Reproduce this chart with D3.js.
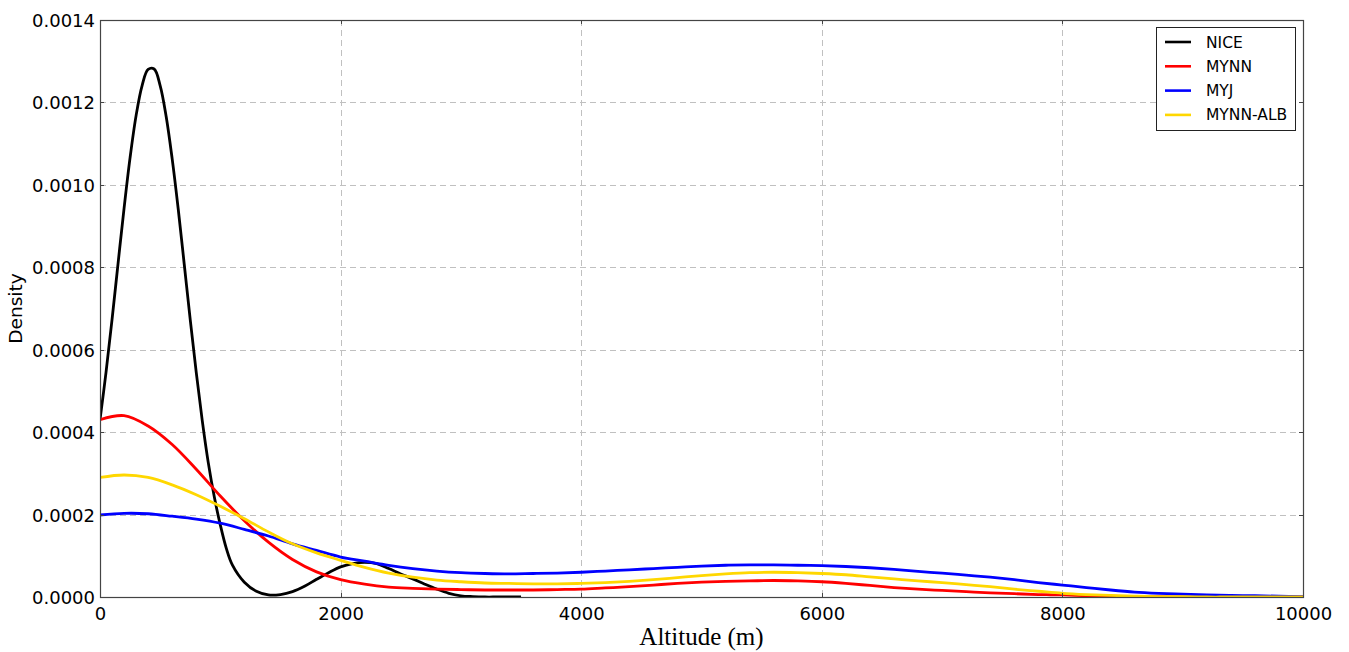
<!DOCTYPE html>
<html>
<head>
<meta charset="utf-8">
<script src="https://cdn.jsdelivr.net/npm/d3@7"></script>
<style>
  html, body { margin: 0; padding: 0; background: #fff; }
  svg { display: block; }
</style>
</head>
<body>
<svg id="chart" width="1349" height="652"></svg>
<script>
// ---- Data ----
const seriesNames = ["NICE", "MYNN", "MYJ", "MYNN-ALB"];
const seriesColors = ["#000000", "#ff0000", "#0000ff", "#ffd700"];

const niceX = [0, 50, 100, 150, 200, 250, 300, 350, 400, 450, 500, 550, 600, 650, 700, 750, 800, 850, 900, 950, 1000, 1050, 1100, 1200, 1300, 1400, 1500, 1600, 1700, 1800, 1900, 2000, 2100, 2200, 2300, 2400, 2500, 2600, 2700, 2800, 2900, 3000, 3100, 3200, 3300, 3400, 3500];
const niceY = [0.000430, 0.000545, 0.000673, 0.000809, 0.000943, 0.001066, 0.001168, 0.001241, 0.001280, 0.001281, 0.001241, 0.001166, 0.001063, 0.000942, 0.000808, 0.000673, 0.000545, 0.000428, 0.000326, 0.000243, 0.000175, 0.000118, 0.000078, 0.000036, 0.000014, 0.000005, 0.000006, 0.000013, 0.000026, 0.000043, 0.000059, 0.000073, 0.000081, 0.000084, 0.000081, 0.000069, 0.000056, 0.000044, 0.000031, 0.000019, 0.000009, 0.000003, 0.000001, 0.0, 0.0, 0.0, 0.0];

const gridX = [0, 200, 400, 600, 800, 1000, 1200, 1400, 1600, 1800, 2000, 2200, 2400, 2600, 2800, 3000, 3200, 3400, 3600, 3800, 4000, 4200, 4400, 4600, 4800, 5000, 5200, 5400, 5600, 5800, 6000, 6200, 6400, 6600, 6800, 7000, 7200, 7400, 7600, 7800, 8000, 8200, 8400, 8600, 8800, 9000, 9200, 9400, 9600, 9800, 10000];

const mynnY = [0.000430, 0.000440, 0.000415, 0.000370, 0.000310, 0.000245, 0.000185, 0.000133, 0.000091, 0.000061, 0.000042, 0.000031, 0.000024, 0.000021, 0.000019, 0.000018, 0.000017, 0.000017, 0.000017, 0.000018, 0.000019, 0.000022, 0.000025, 0.000029, 0.000033, 0.000036, 0.000038, 0.000039, 0.000040, 0.000039, 0.000037, 0.000033, 0.000028, 0.000023, 0.000019, 0.000016, 0.000013, 0.000010, 0.000008, 0.000006, 0.000005, 0.000003, 0.000002, 0.000001, 0.000001, 0.0, 0.0, 0.0, 0.0, 0.0, 0.0];

const myjY = [0.000199, 0.000203, 0.000202, 0.000196, 0.000189, 0.000179, 0.000164, 0.000148, 0.000129, 0.000113, 0.000097, 0.000087, 0.000077, 0.000069, 0.000063, 0.000059, 0.000057, 0.000056, 0.000057, 0.000058, 0.000060, 0.000063, 0.000066, 0.000069, 0.000072, 0.000075, 0.000077, 0.000078, 0.000078, 0.000077, 0.000076, 0.000074, 0.000071, 0.000067, 0.000062, 0.000058, 0.000053, 0.000048, 0.000042, 0.000035, 0.000029, 0.000023, 0.000017, 0.000012, 0.000009, 0.000007, 0.000005, 0.000004, 0.000003, 0.000002, 0.000001];

const albY = [0.000290, 0.000296, 0.000290, 0.000272, 0.000248, 0.000220, 0.000190, 0.000158, 0.000129, 0.000107, 0.000089, 0.000072, 0.000058, 0.000048, 0.000041, 0.000037, 0.000034, 0.000033, 0.000032, 0.000032, 0.000033, 0.000035, 0.000038, 0.000042, 0.000047, 0.000052, 0.000056, 0.000059, 0.000060, 0.000059, 0.000057, 0.000054, 0.000049, 0.000044, 0.000039, 0.000035, 0.000030, 0.000025, 0.000019, 0.000014, 0.000009, 0.000006, 0.000004, 0.000002, 0.000001, 0.000001, 0.0, 0.0, 0.0, 0.0, 0.0];

const xTicks = [0, 2000, 4000, 6000, 8000, 10000];
const yTicks = [0.0000, 0.0002, 0.0004, 0.0006, 0.0008, 0.0010, 0.0012, 0.0014];
const xLabel = "Altitude (m)";
const yLabel = "Density";

// ---- Layout ----
const svg = d3.select("#chart");
const pLeft = 100, pRight = 1303, pTop = 20, pBottom = 597;

const x = d3.scaleLinear().domain([0, 10000]).range([pLeft, pRight]);
const y = d3.scaleLinear().domain([0, 0.0014]).range([pBottom, pTop]);

// grid
const grid = svg.append("g");
grid.selectAll("line.gx").data(xTicks.slice(1, -1)).enter().append("line")
  .attr("x1", d => Math.round(x(d)) + 0.5).attr("x2", d => Math.round(x(d)) + 0.5)
  .attr("y1", pTop).attr("y2", pBottom)
  .attr("stroke", "#c0c0c0").attr("stroke-width", 1).attr("stroke-dasharray", "6,4");
grid.selectAll("line.gy").data(yTicks.slice(1, -1)).enter().append("line")
  .attr("y1", d => Math.round(y(d)) + 0.5).attr("y2", d => Math.round(y(d)) + 0.5)
  .attr("x1", pLeft).attr("x2", pRight)
  .attr("stroke", "#c0c0c0").attr("stroke-width", 1).attr("stroke-dasharray", "6,4");

// series
const series = [
  { name: seriesNames[0], color: seriesColors[0], xs: niceX, ys: niceY },
  { name: seriesNames[1], color: seriesColors[1], xs: gridX, ys: mynnY },
  { name: seriesNames[2], color: seriesColors[2], xs: gridX, ys: myjY },
  { name: seriesNames[3], color: seriesColors[3], xs: gridX, ys: albY }
];
const line = d3.line().x(d => x(d[0])).y(d => y(d[1])).curve(d3.curveCatmullRom.alpha(0.5));
svg.append("clipPath").attr("id", "clip").append("rect")
  .attr("x", pLeft).attr("y", pTop).attr("width", pRight - pLeft).attr("height", pBottom - pTop);
const lines = svg.append("g").attr("clip-path", "url(#clip)");
series.forEach(s => {
  lines.append("path")
    .datum(s.xs.map((v, i) => [v, s.ys[i]]))
    .attr("fill", "none").attr("stroke", s.color).attr("stroke-width", 2.8)
    .attr("stroke-linejoin", "round")
    .attr("d", line);
});

// axes
const xAxis = d3.axisBottom(x).tickValues(xTicks).tickFormat(d3.format("d")).tickSize(0).tickPadding(10);
const yAxis = d3.axisLeft(y).tickValues(yTicks).tickFormat(d3.format(".4f")).tickSize(0).tickPadding(5);
const gx = svg.append("g").attr("transform", `translate(0,${pBottom})`).call(xAxis);
const gy = svg.append("g").attr("transform", `translate(${pLeft},0)`).call(yAxis);
[gx, gy].forEach(g => {
  g.select(".domain").remove();
  g.selectAll("text").attr("font-family", "DejaVu Sans").attr("font-size", 18).attr("fill", "#000");
});
gx.selectAll("text").attr("dy", "0.71em");
gy.selectAll("text").attr("dy", "0.36em");

// inward tick marks on all sides
const tk = svg.append("g").attr("stroke", "#444").attr("stroke-width", 1);
xTicks.forEach(t => {
  const px = Math.round(x(t)) + 0.5;
  tk.append("line").attr("x1", px).attr("x2", px).attr("y1", pBottom).attr("y2", pBottom - 4);
  tk.append("line").attr("x1", px).attr("x2", px).attr("y1", pTop).attr("y2", pTop + 4);
});
yTicks.forEach(t => {
  const py = Math.round(y(t)) + 0.5;
  tk.append("line").attr("x1", pLeft).attr("x2", pLeft + 4).attr("y1", py).attr("y2", py);
  tk.append("line").attr("x1", pRight).attr("x2", pRight - 4).attr("y1", py).attr("y2", py);
});

// frame
svg.append("rect").attr("x", pLeft + 0.5).attr("y", pTop + 0.5)
  .attr("width", pRight - pLeft).attr("height", pBottom - pTop)
  .attr("fill", "none").attr("stroke", "#444").attr("stroke-width", 1.2);

// labels
svg.append("text").attr("x", (pLeft + pRight) / 2).attr("y", 645)
  .attr("text-anchor", "middle").attr("font-family", "Liberation Serif")
  .attr("font-size", 25).attr("fill", "#000").text(xLabel);
svg.append("text").attr("transform", `translate(22,${(pTop + pBottom) / 2}) rotate(-90)`)
  .attr("text-anchor", "middle").attr("font-family", "DejaVu Sans")
  .attr("font-size", 18.5).attr("fill", "#000").text(yLabel);

// legend
const lg = svg.append("g");
lg.append("rect").attr("x", 1156.5).attr("y", 27.5).attr("width", 139).attr("height", 103)
  .attr("fill", "#fff").attr("stroke", "#222").attr("stroke-width", 1);
series.forEach((s, i) => {
  const yy = 42 + i * 24.3;
  lg.append("line").attr("x1", 1165).attr("x2", 1191).attr("y1", yy).attr("y2", yy)
    .attr("stroke", s.color).attr("stroke-width", 2.6);
  lg.append("text").attr("x", 1206).attr("y", yy).attr("dy", "0.36em")
    .attr("font-family", "DejaVu Sans").attr("font-size", 15.5).attr("fill", "#000").text(s.name);
});
</script>
</body>
</html>
